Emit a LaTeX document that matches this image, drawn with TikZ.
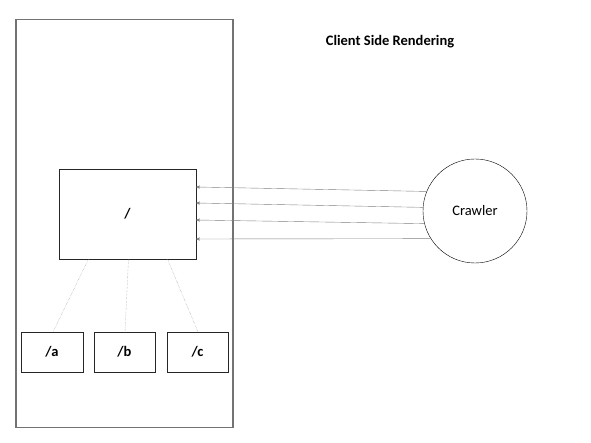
\documentclass[tikz,border=0pt]{standalone}
\usepackage{fontspec}
\setmainfont{Carlito}
\usepackage{tikz}
\usetikzlibrary{arrows,calc,positioning}

\begin{document}
\begin{tikzpicture}[x=1pt,y=-1pt,>=stealth',semithick,font=\fontsize{14.5}{16}\selectfont]
  \tikzstyle{page}=[draw=black!55, line width=1.3pt, minimum width=217, minimum height=408]
  \tikzstyle{route}=[draw=black!85, thin, fill=white, font=\fontsize{14.5}{16}\selectfont\bfseries]
  \tikzstyle{link}=[densely dotted, thin, draw=black!45]
  \tikzstyle{request}=[->, thin, draw=black!50]
  \useasboundingbox (0,0) rectangle (591,443);

  \node[page]                (site)    at (124.5,223.5) {};
  \node[route, minimum width=137, minimum height=90] (root) at (127.5,214) {/};
  \node[route, minimum width=62, minimum height=40]  (pa)   at (52,352)    {/a};
  \node[route, minimum width=61, minimum height=40]  (pb)   at (124.5,352) {/b};
  \node[route, minimum width=61, minimum height=40]  (pc)   at (197.5,352) {/c};
  \node[circle, draw, thin, minimum size=104] (crawler) at (475,211) {Crawler};
  \node[font=\fontsize{14.5}{16}\selectfont\bfseries] (title) at (390,42) {Client Side Rendering};

  \path
        ([xshift=-39]root.south) edge[link] ([xshift=1]pa.north)
        ([xshift=1]root.south)   edge[link] ([xshift=0.5]pb.north)
        ([xshift=40]root.south)  edge[link] ([xshift=0.5]pc.north)
        (crawler.158) edge[request] ([yshift=27]root.east)
        (crawler.176) edge[request] ([yshift=11]root.east)
        (crawler.194) edge[request] ([yshift=-6]root.east)
        (crawler.212) edge[request] ([yshift=-25]root.east);
\end{tikzpicture}
\end{document}
